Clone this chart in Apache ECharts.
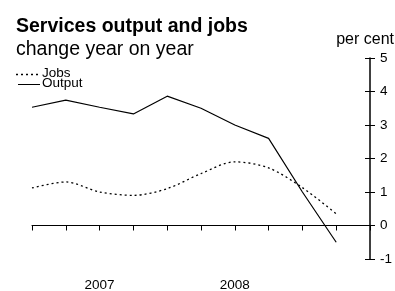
<!DOCTYPE html>
<html>
<head>
<meta charset="utf-8">
<script src="https://cdn.jsdelivr.net/npm/echarts@6/dist/echarts.min.js"></script>
<style>
  html, body { margin: 0; padding: 0; background: #fff; }
  #chart { width: 395px; height: 291px; }
</style>
</head>
<body>
<div id="chart"></div>
<script>
  // quarters, 2006 Q3 .. 2009 Q1 (last one empty)
  let quarters = ['2006Q3', '2006Q4', '2007Q1', '2007Q2', '2007Q3', '2007Q4',
                  '2008Q1', '2008Q2', '2008Q3', '2008Q4', '2009Q1'];
  let xLabels = ['', '', '2007', '', '', '', '2008', '', '', '', ''];
  let output = [3.53, 3.74, 3.53, 3.33, 3.86, 3.5, 3.0, 2.6, 1.0, -0.5];
  let jobs = [1.12, 1.3, 1.0, 0.9, 1.1, 1.55, 1.9, 1.72, 1.13, 0.35];

  let dom = document.getElementById('chart');
  let myChart = echarts.init(dom);
  let font = 'Liberation Sans, Arial, sans-serif';
  let option = {
    animation: false,
    textStyle: { fontFamily: font, color: '#000' },
    title: {
      text: 'Services output and jobs',
      subtext: 'change year on year',
      left: 11,
      top: 12,
      itemGap: 3,
      textStyle: { fontSize: 19.5, fontWeight: 'bold', color: '#000', fontFamily: font },
      subtextStyle: { fontSize: 19.5, color: '#000', fontFamily: font }
    },
    // legend drawn by hand: dotted / solid sample + label
    graphic: [
      { type: 'line', shape: { x1: 16, y1: 74.5, x2: 40, y2: 74.5 },
        style: { stroke: '#000', lineWidth: 1.3, lineDash: [2, 3] } },
      { type: 'text', left: 42, top: 66,
        style: { text: 'Jobs', fontSize: 13.5, fill: '#000', fontFamily: font } },
      { type: 'line', shape: { x1: 18, y1: 84.5, x2: 40, y2: 84.5 },
        style: { stroke: '#000', lineWidth: 1 } },
      { type: 'text', left: 42, top: 76,
        style: { text: 'Output', fontSize: 13.5, fill: '#000', fontFamily: font } },
      { type: 'text', right: 1, top: 32,
        style: { text: 'per cent', fontSize: 16, fill: '#000', fontFamily: font } }
    ],
    grid: { left: 32, right: 25, top: 58, bottom: 32, outerBoundsMode: 'none' },
    xAxis: [{
      type: 'category',
      data: quarters,
      boundaryGap: false,
      axisLine: { onZero: true, lineStyle: { color: '#000', width: 1 } },
      axisTick: { show: true, length: 5, interval: 0, lineStyle: { color: '#000' } },
      axisLabel: { show: false },
      splitLine: { show: false }
    }, {
      // year labels along the bottom of the plot
      type: 'category',
      data: quarters,
      boundaryGap: false,
      position: 'bottom',
      axisLine: { show: false, onZero: false },
      axisTick: { show: false },
      axisLabel: {
        interval: 0,
        margin: 19,
        fontSize: 13.5,
        color: '#000',
        formatter: (v, i) => xLabels[i]
      },
      splitLine: { show: false }
    }],
    yAxis: [{
      type: 'value',
      position: 'right',
      min: -1,
      max: 5,
      interval: 1,
      axisLine: { show: true, lineStyle: { color: '#000', width: 1.5 } },
      axisTick: { show: true, length: 5, lineStyle: { color: '#000' } },
      axisLabel: { margin: 10, fontSize: 13.5, color: '#000' },
      splitLine: { show: false }
    }, {
      type: 'value',
      position: 'right',
      min: -1,
      max: 5,
      interval: 1,
      axisLine: { show: false },
      axisTick: { show: true, inside: true, length: 5, lineStyle: { color: '#000' } },
      axisLabel: { show: false },
      splitLine: { show: false }
    }],
    series: [
      {
        name: 'Jobs',
        type: 'line',
        data: jobs,
        smooth: 0.3,
        symbol: 'none',
        lineStyle: { color: '#000', width: 1.3, type: [2, 3] }
      },
      {
        name: 'Output',
        type: 'line',
        data: output,
        symbol: 'none',
        lineStyle: { color: '#000', width: 1.2, type: 'solid' }
      }
    ]
  };
  myChart.setOption(option);
  window.addEventListener('resize', () => { myChart.resize() });
</script>
</body>
</html>
